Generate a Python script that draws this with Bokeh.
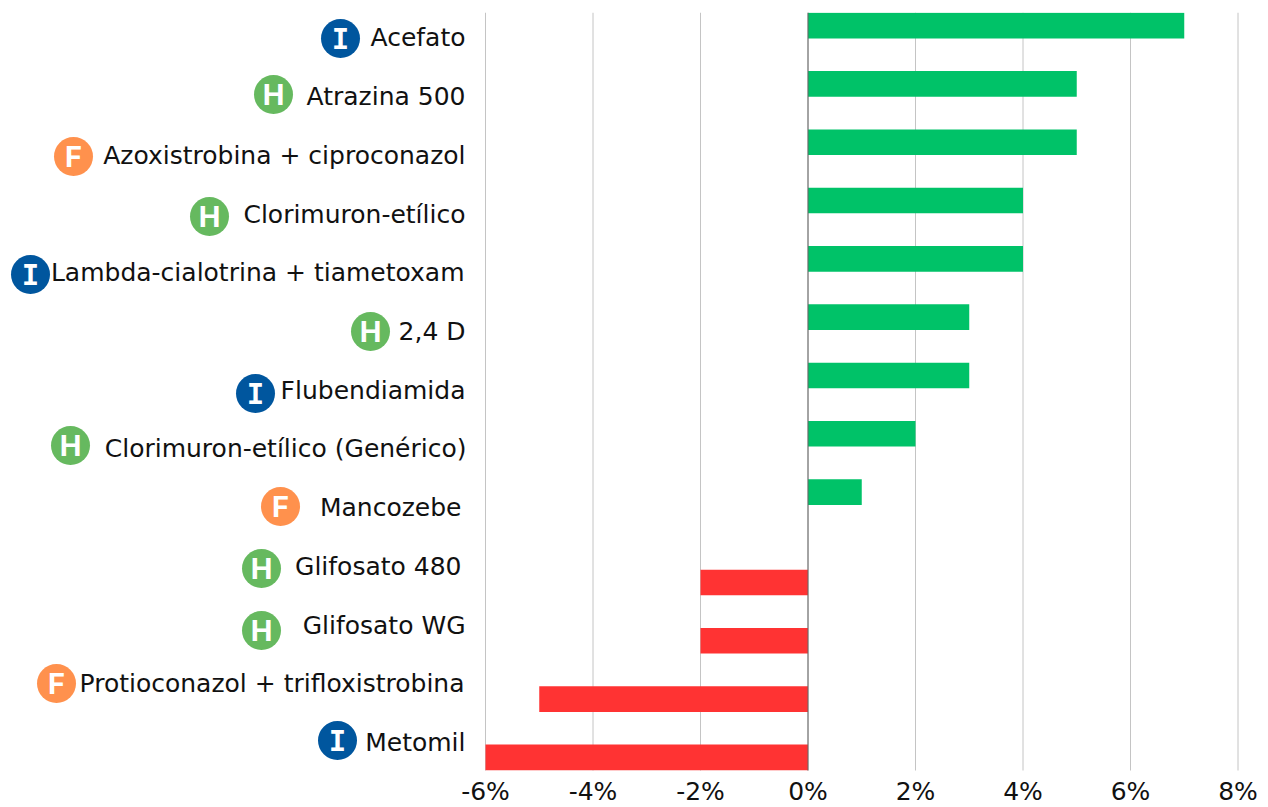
from bokeh.plotting import figure
from bokeh.models import Range1d, ColumnDataSource
from bokeh.core.properties import value
from bokeh.embed import file_html
from bokeh.resources import INLINE

products = ["Acefato", "Atrazina 500", "Azoxistrobina + ciproconazol", "Clorimuron-etílico",
            "Lambda-cialotrina + tiametoxam", "2,4 D", "Flubendiamida",
            "Clorimuron-etílico (Genérico)", "Mancozebe", "Glifosato 480", "Glifosato WG",
            "Protioconazol + trifloxistrobina", "Metomil"]
changes = [7, 5, 5, 4, 4, 3, 3, 2, 1, -2, -2, -5, -6]
classes = ["I", "H", "F", "H", "I", "H", "I", "H", "F", "H", "H", "F", "I"]
ticks = [-6, -4, -2, 0, 2, 4, 6, 8]
tick_labels = ["-6%", "-4%", "-2%", "0%", "2%", "4%", "6%", "8%"]

# layout (page pixels)
W, H = 1268, 807
F_TOP, F_BOT = 12, 770
PX_PER_UNIT = 53.75
X_M6 = 485
TICK_LABEL_Y = 791
label_right = [465, 465, 465, 465, 464, 465, 465, 466, 461, 461, 465, 464, 465]
label_y = [37, 96, 155, 214, 272, 331, 390, 448, 507, 566, 625, 683, 742]
icon_x = [340, 273, 73, 209, 30, 370, 255, 70, 280, 261, 261, 56, 337]
icon_y = [38, 94, 156, 216, 274, 331, 393, 445, 506, 568, 630, 683, 740]
CLASS_COLOR = {"I": "#00569E", "H": "#66B95F", "F": "#FF914D"}
FONT = "DejaVu Sans"
FONT_SIZE = "25px"


def dx(px):
    return -6 + (px - X_M6) / PX_PER_UNIT


def dy(px):
    return -0.5 + (px - F_TOP) / ((F_BOT - F_TOP) / 13)


p = figure(width=W, height=H, output_backend="svg", toolbar_location=None,
           x_range=Range1d(dx(0), dx(W)), y_range=Range1d(dy(H), -0.5),
           min_border_left=0, min_border_right=0, min_border_top=F_TOP, min_border_bottom=0,
           outline_line_color=None)
p.xaxis.visible = False
p.yaxis.visible = False
p.grid.visible = False

p.segment(x0=ticks, x1=ticks, y0=[-0.5] * len(ticks), y1=[12.5] * len(ticks),
          line_color="#C4C4C4", line_width=1)

pos = [(i, v) for i, v in enumerate(changes) if v >= 0]
neg = [(i, v) for i, v in enumerate(changes) if v < 0]
p.hbar(y=[i - 0.275 for i, _ in pos], left=0, right=[v for _, v in pos], height=0.44,
       fill_color="#00C268", line_color=None)
p.hbar(y=[i + 0.275 for i, _ in neg], left=0, right=[v for _, v in neg], height=0.44,
       fill_color="#FF3333", line_color=None)
p.segment(x0=[0], x1=[0], y0=[-0.5], y1=[12.5], line_color="#666666", line_width=1)

p.text(x=[dx(v) for v in label_right], y=[dy(v) for v in label_y], text=products,
       text_font=value(FONT), text_font_size=FONT_SIZE, text_color="#111111",
       text_align="right", text_baseline="middle")

icons = ColumnDataSource(dict(x=[dx(v) for v in icon_x], y=[dy(v) for v in icon_y],
                              color=[CLASS_COLOR[c] for c in classes], cls=classes))
p.scatter(x="x", y="y", size=39, marker="circle", fill_color="color", line_color=None, source=icons)
for fontname, letters in (("DejaVu Sans Mono", "I"), ("Inter", "HF")):
    idx = [i for i, c in enumerate(classes) if c in letters]
    p.text(x=[dx(icon_x[i]) for i in idx], y=[dy(icon_y[i]) for i in idx],
           text=[classes[i] for i in idx], text_font=value(fontname), text_font_style="bold",
           text_font_size="29px", text_color="white", text_align="center", text_baseline="middle")

p.text(x=ticks, y=[dy(TICK_LABEL_Y)] * len(ticks), text=tick_labels,
       text_font=value(FONT), text_font_size=FONT_SIZE, text_color="#111111",
       text_align="center", text_baseline="middle")

open("out.html", "w").write(file_html(p, INLINE))
